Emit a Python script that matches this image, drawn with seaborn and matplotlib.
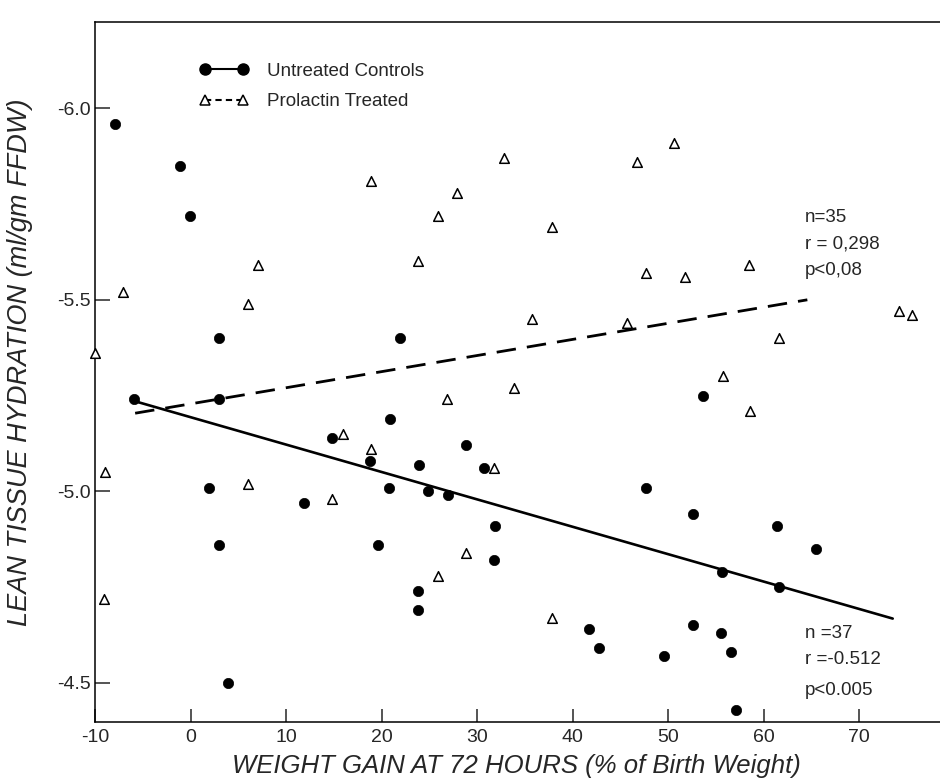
import numpy as np
import pandas as pd
import seaborn as sns
import matplotlib.pyplot as plt
from matplotlib.lines import Line2D

# Untreated controls (filled circles): weight gain %, lean tissue hydration
ctrl_gain = [-7.9, -1.1, -0.1, 2.9, 21.9, -6.0, 2.9, 14.8, 18.8, 1.9, 11.8, 3.0, 19.6,
             3.9, 20.9, 28.8, 23.9, 30.7, 20.8, 24.8, 26.9, 47.7, 31.9, 31.8, 23.8, 23.8,
             41.7, 42.7, 49.6, 53.6, 52.6, 61.4, 65.5, 55.6, 61.6, 52.6, 55.5, 56.6, 57.1]
ctrl_hyd = [-5.96, -5.85, -5.72, -5.40, -5.40, -5.24, -5.24, -5.14, -5.08, -5.01, -4.97, -4.86, -4.86,
            -4.50, -5.19, -5.12, -5.07, -5.06, -5.01, -5.00, -4.99, -5.01, -4.91, -4.82, -4.74, -4.69,
            -4.64, -4.59, -4.57, -5.25, -4.94, -4.91, -4.85, -4.79, -4.75, -4.65, -4.63, -4.58, -4.43]

# Prolactin treated (open triangles)
prl_gain = [18.9, 7.0, -7.1, 6.0, -10.0, 32.8, 46.7, 50.6, 27.9, 25.9, 37.8, 23.8, 47.7,
            35.7, 45.7, 51.7, 58.5, 74.2, 75.5, 61.6, 55.7, 15.9, 18.9, -9.0, 6.0, 14.8,
            -9.1, 33.8, 26.8, 31.8, 28.8, 25.9, 37.8, 58.6]
prl_hyd = [-5.81, -5.59, -5.52, -5.49, -5.36, -5.87, -5.86, -5.91, -5.78, -5.72, -5.69, -5.60, -5.57,
           -5.45, -5.44, -5.56, -5.59, -5.47, -5.46, -5.40, -5.30, -5.15, -5.11, -5.05, -5.02, -4.98,
           -4.72, -5.27, -5.24, -5.06, -4.84, -4.78, -4.67, -5.21]

# regression lines as drawn (end points)
ctrl_fit_x = [-5.95, 73.5]
ctrl_fit_y = [-5.236, -4.668]
prl_fit_x = [-5.83, 64.56]
prl_fit_y = [-5.204, -5.50]

x_ticks = [-10, 0, 10, 20, 30, 40, 50, 60, 70]
y_ticks = [-6.0, -5.5, -5.0, -4.5]
y_tick_labels = ["-6.0", "-5.5", "-5.0", "-4.5"]

legend_labels = ["Untreated Controls", "Prolactin Treated"]
prl_stats = ["n=35", "r = 0,298", "p<0,08"]
ctrl_stats = ["n =37", "r =-0.512", "p<0.005"]

sns.set_style("ticks")
plt.rcParams['font.family'] = ['Liberation Sans', 'DejaVu Sans']
plt.rcParams['axes.unicode_minus'] = False

df_ctrl = pd.DataFrame({'gain': ctrl_gain, 'hyd': ctrl_hyd})
df_prl = pd.DataFrame({'gain': prl_gain, 'hyd': prl_hyd})

fig = plt.figure(figsize=(9.4, 7.81), dpi=100)
ax = fig.add_axes([0.1014, 0.0755, 0.8986, 0.8963])

# fitted lines
sns.lineplot(x=ctrl_fit_x, y=ctrl_fit_y, color='black', lw=1.9, ax=ax)
sns.lineplot(x=prl_fit_x, y=prl_fit_y, color='black', lw=2.0, linestyle=(0, (7, 4)), ax=ax)

# points
sns.scatterplot(data=df_ctrl, x='gain', y='hyd', marker='o', color='black', edgecolor='black',
                s=55, linewidth=0.5, zorder=3, clip_on=False, ax=ax)
sns.scatterplot(data=df_prl, x='gain', y='hyd', marker='^', color='white', edgecolor='black',
                s=48, linewidth=1.1, zorder=3, clip_on=False, ax=ax)

ax.set_xlim(-10, 78.45)
ax.set_ylim(-4.398, -6.225)
ax.set_xticks(x_ticks)
ax.set_yticks(y_ticks)
ax.set_yticklabels(y_tick_labels)
ax.tick_params(axis='x', direction='in', length=9.5, width=1.1, pad=5, labelsize=14)
ax.tick_params(axis='y', direction='in', length=11, width=1.1, pad=3, labelsize=14)

for side in ['left', 'bottom', 'top']:
    ax.spines[side].set_linewidth(1.1)
    ax.spines[side].set_color('black')
ax.spines['right'].set_visible(False)

ax.set_xlabel("WEIGHT GAIN AT 72 HOURS (% of Birth Weight)", fontsize=18.5, style='italic', va='center')
ax.set_ylabel("LEAN TISSUE HYDRATION (ml/gm FFDW)", fontsize=19.5, style='italic')
ax.xaxis.set_label_coords(0.499, -0.063)
ax.yaxis.set_label_coords(-0.074, 0.514)

# stats text
for i, t in enumerate(prl_stats):
    ax.text(64.3, [-5.715, -5.646, -5.576][i], t, fontsize=13.5, va='center', ha='left')
for i, t in enumerate(ctrl_stats):
    ax.text(64.3, [-4.629, -4.561, -4.481][i], t, fontsize=13.5, va='center', ha='left')

# legend
h1 = Line2D([], [], color='black', lw=1.5, marker='o', markersize=8, mfc='black', mec='black')
h2 = Line2D([], [], color='black', lw=1.5, ls=(0, (3, 2)), marker='^', markersize=7.5,
            mfc='white', mec='black', mew=1.1)
ax.legend([h1, h2], legend_labels, loc='upper left', bbox_to_anchor=(0.1231, 0.942),
          frameon=False, numpoints=2, handlelength=2.61, handletextpad=1.0,
          fontsize=13.5, labelspacing=0.72, borderpad=0, borderaxespad=0)

fig.savefig('out.png', dpi=100)
